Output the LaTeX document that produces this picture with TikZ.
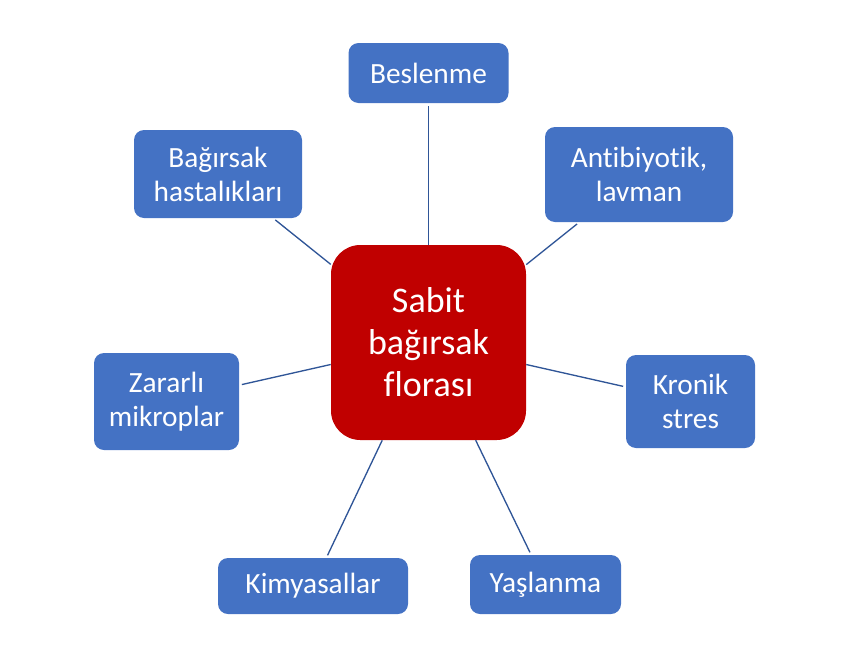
\documentclass[tikz,border=0pt]{standalone}
\usepackage{fontspec}
\setmainfont{Carlito}[RawFeature={-liga}]
\usepackage{xcolor}
\usepackage{tikz}
\usetikzlibrary{positioning}

\definecolor{boxblue}{HTML}{4472C4}
\definecolor{boxred}{HTML}{C00000}
\definecolor{linkblue}{HTML}{2F5597}

\begin{document}
\begin{tikzpicture}[x=0.75pt, y=-0.75pt,
    factor/.style={fill=boxblue, rounded corners=7.5pt, text=white, align=center,
      font=\fontsize{22}{25.6}\selectfont, inner sep=0pt},
    core/.style={fill=boxred, rounded corners=22pt, text=white, align=center,
      font=\fontsize{27}{31.5}\selectfont, inner sep=0pt,
      minimum width=146.25pt, minimum height=146.25pt},
    link/.style={draw=linkblue, line width=1pt, shorten >=2pt}]
  \useasboundingbox (0,0) rectangle (850,657);

  % Center
  \node[core] (flora) at (428.5,342.5) {Sabit\\bağırsak\\florası};

  % Factors around it
  \node[factor, minimum width=120pt, minimum height=45pt] (diet) at (428.5,73) {Beslenme};
  \node[factor, minimum width=141pt, minimum height=71.25pt] (antib) at (639,174.5) {Antibiyotik,\\lavman};
  \node[factor, minimum width=126pt, minimum height=66pt] (disease) at (218,174) {Bağırsak\\hastalıkları};
  \node[factor, minimum width=108.75pt, minimum height=72.75pt] (microbe) at (166.5,401.5) {Zararlı\\mikroplar};
  \node[factor, minimum width=96.75pt, minimum height=69.75pt] (stress) at (690.5,401.5) {Kronik\\stres};
  \node[factor, minimum width=142.5pt, minimum height=42pt] (chem) at (313,586) {Kimyasallar};
  \node[factor, minimum width=113.25pt, minimum height=44.25pt] (aging) at (545.5,584.5) {Yaşlanma};

  % Links
  \foreach \f in {diet,antib,disease,microbe,stress,chem,aging}
    \draw[link] (flora) -- (\f);
\end{tikzpicture}
\end{document}
